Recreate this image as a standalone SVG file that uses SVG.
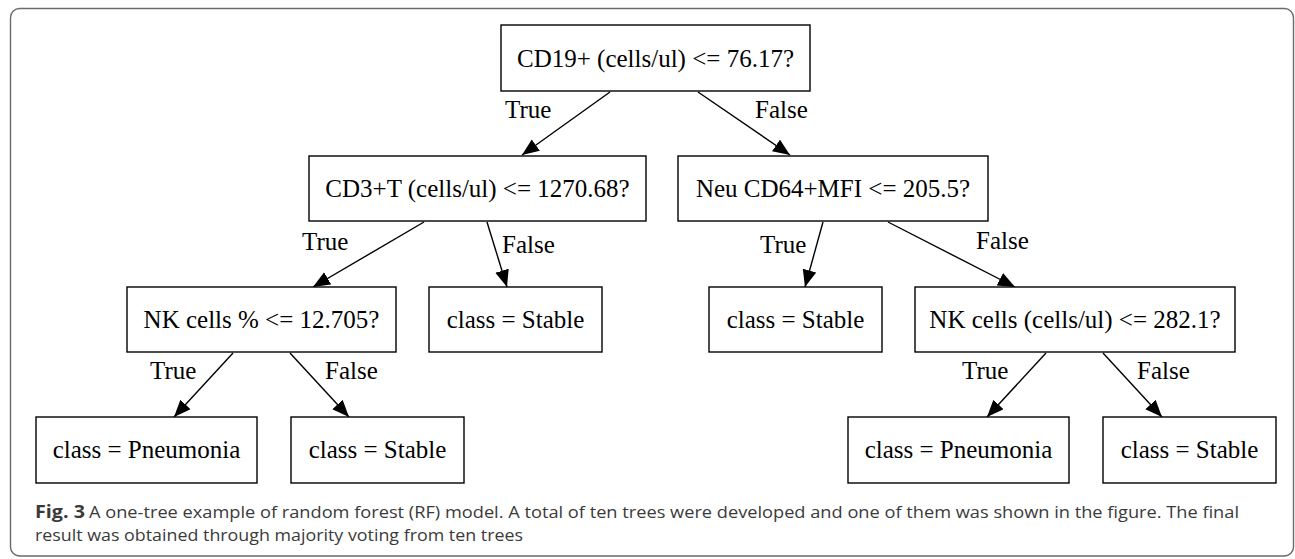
<svg xmlns="http://www.w3.org/2000/svg" width="1295" height="559" viewBox="0 0 1295 559">
<style>
.node rect{fill:#fff;stroke:#000;stroke-width:1.4}
.node text{font-family:"Liberation Serif","Times New Roman",serif;font-size:25px;fill:#000;text-anchor:middle}
.edge line{stroke:#000;stroke-width:1.4;marker-end:url(#ah)}
.lbl{font-family:"Liberation Serif","Times New Roman",serif;font-size:25px;fill:#000}
.cap{font-family:"Open Sans","Noto Sans",sans-serif;font-size:17px;fill:#3a3a3a}
</style>
<defs>
<marker id="ah" markerUnits="userSpaceOnUse" markerWidth="19" markerHeight="15" refX="17" refY="7" orient="auto">
<path d="M0,0 L17,7 L0,14 Z" fill="#000"/>
</marker>
</defs>
<rect x="0" y="0" width="1295" height="559" fill="#fff"/>
<rect x="10.5" y="8.5" width="1283" height="547.5" rx="9" fill="none" stroke="#6b6b6b" stroke-width="1.4"/>

<g id="connectors" class="edge">
<line x1="610" y1="92" x2="522" y2="155"/>
<line x1="698" y1="92" x2="790" y2="155"/>
<line x1="424" y1="222" x2="313" y2="287"/>
<line x1="487" y1="222" x2="507" y2="287"/>
<line x1="823" y1="222" x2="805" y2="287"/>
<line x1="888" y1="222" x2="1015" y2="287"/>
<line x1="233" y1="353" x2="174" y2="417"/>
<line x1="290" y1="353" x2="349" y2="417"/>
<line x1="1046" y1="353" x2="987" y2="417"/>
<line x1="1103" y1="353" x2="1162" y2="417"/>
</g>
<g id="edge-labels">
<text class="lbl" x="505" y="118">True</text>
<text class="lbl" x="755" y="118">False</text>
<text class="lbl" x="302" y="250">True</text>
<text class="lbl" x="502" y="253">False</text>
<text class="lbl" x="760" y="253">True</text>
<text class="lbl" x="976" y="249">False</text>
<text class="lbl" x="150" y="379">True</text>
<text class="lbl" x="325" y="379">False</text>
<text class="lbl" x="962" y="379">True</text>
<text class="lbl" x="1137" y="379">False</text>
</g>

<g id="n0" class="node"><rect x="501" y="25" width="309" height="66"/><text x="655.5" y="66.5">CD19+ (cells/ul) &lt;= 76.17?</text></g>
<g id="n1" class="node"><rect x="309" y="156" width="337" height="65"/><text x="477.5" y="197">CD3+T (cells/ul) &lt;= 1270.68?</text></g>
<g id="n2" class="node"><rect x="678" y="156" width="310" height="65"/><text x="833" y="197">Neu CD64+MFI &lt;= 205.5?</text></g>
<g id="n3" class="node"><rect x="127" y="287" width="269" height="65"/><text x="261.5" y="327.5">NK cells % &lt;= 12.705?</text></g>
<g id="n4" class="node"><rect x="429" y="287" width="173" height="65"/><text x="515.5" y="327.5">class = Stable</text></g>
<g id="n5" class="node"><rect x="709" y="287" width="173" height="65"/><text x="795.5" y="327.5">class = Stable</text></g>
<g id="n6" class="node"><rect x="915" y="287" width="320" height="65"/><text x="1075" y="327.5">NK cells (cells/ul) &lt;= 282.1?</text></g>
<g id="n7" class="node"><rect x="36" y="417" width="221" height="66"/><text x="146.5" y="457.5">class = Pneumonia</text></g>
<g id="n8" class="node"><rect x="291" y="417" width="173" height="66"/><text x="377.5" y="457.5">class = Stable</text></g>
<g id="n9" class="node"><rect x="848" y="417" width="221" height="66"/><text x="958.5" y="457.5">class = Pneumonia</text></g>
<g id="n10" class="node"><rect x="1103" y="417" width="173" height="66"/><text x="1189.5" y="457.5">class = Stable</text></g>

<g id="caption">
<text class="cap" x="35" y="517.5" font-weight="bold" fill="#222" textLength="50" lengthAdjust="spacingAndGlyphs">Fig. 3</text>
<text class="cap" x="89" y="517.5" textLength="1150" lengthAdjust="spacingAndGlyphs">A one-tree example of random forest (RF) model. A total of ten trees were developed and one of them was shown in the figure. The final</text>
<text class="cap" x="35" y="541" textLength="488" lengthAdjust="spacingAndGlyphs">result was obtained through majority voting from ten trees</text>
</g>
</svg>
